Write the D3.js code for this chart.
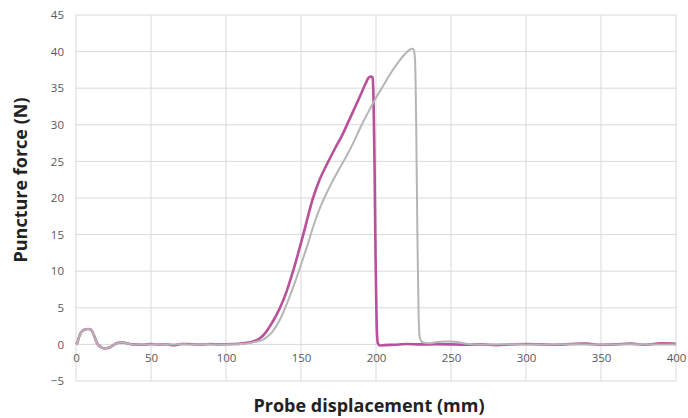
<!DOCTYPE html>
<html>
<head>
<meta charset="utf-8">
<script src="https://cdn.jsdelivr.net/npm/d3@7"></script>
<style>
  html, body { margin: 0; padding: 0; background: #fff; }
  svg { display: block; font-family: "Open Sans", sans-serif; }
</style>
</head>
<body>
<svg id="chart" width="688" height="418"></svg>
<script>
// Tick values
const xTicks = [0, 50, 100, 150, 200, 250, 300, 350, 400];
const yTicks = [-5, 0, 5, 10, 15, 20, 25, 30, 35, 40, 45];

// Series 1 (pink)
const pinkX = [0, 1, 2, 3, 4, 6, 8, 10, 11, 12, 13, 14, 15, 17, 19, 21, 23, 25, 27, 29, 32, 35, 38,
  45, 50, 55, 60, 65, 70, 75, 80, 85, 90, 95, 100, 105,
  110, 115, 120, 123, 126, 129, 132, 136, 140, 145, 151.5, 158, 162, 168, 173, 177.5, 182, 186, 190, 193, 195, 196.5, 197.7,
  198.3, 199, 199.7, 200.4, 201.2, 202.5, 206, 212, 220, 230, 240, 250, 260, 270, 280, 290, 300, 310, 320, 330, 340, 350, 360, 370, 380, 390, 398, 400];
const pinkY = [0, 0.3, 1.0, 1.5, 1.8, 2.05, 2.1, 2.0, 1.7, 1.2, 0.7, 0.2, -0.1, -0.4, -0.55, -0.5, -0.35, -0.1, 0.15, 0.25, 0.25, 0.1, 0,
  -0.05, 0.05, 0, 0.02, -0.12, 0.05, 0.05, -0.02, 0, 0.05, 0, 0.02, 0.05,
  0.1, 0.25, 0.55, 0.9, 1.5, 2.4, 3.4, 5.0, 7.0, 10.2, 15, 20, 22.3, 24.9, 26.9, 28.6, 30.6, 32.4, 34.2, 35.6, 36.4, 36.6, 36.5,
  34, 25, 12, 3, 0.2, -0.15, -0.1, -0.05, 0.05, 0, 0.02, 0, -0.05, 0, -0.1, 0, 0.05, 0, -0.05, 0.05, 0.1, -0.05, 0, 0.1, -0.05, 0.15, 0.1, 0.05];

// Series 2 (grey)
const grayX = [0, 1, 2, 3, 4, 6, 8, 10, 11, 12, 13, 14, 15, 17, 19, 21, 23, 25, 27, 29, 32, 35, 38,
  45, 50, 55, 60, 65, 70, 75, 80, 85, 90, 95, 100, 105,
  110, 115, 120, 125, 130, 136, 142, 146, 151, 155, 158, 162, 166, 170, 175, 180, 185, 190, 195, 200, 205, 210, 215, 219, 222, 224, 225,
  226, 226.8, 227.6, 228.4, 229.3, 231, 235, 240, 245, 250, 255, 260, 265, 270, 280, 290, 300, 310, 320, 330, 340, 350, 360, 370, 380, 390, 400];
const grayY = [0, 0.3, 1.0, 1.5, 1.8, 2.05, 2.1, 2.0, 1.7, 1.2, 0.7, 0.2, -0.1, -0.4, -0.55, -0.5, -0.35, -0.1, 0.15, 0.25, 0.25, 0.1, 0,
  0, 0, 0.02, 0, 0, 0.02, 0, 0, 0.02, 0, 0, 0, 0.02,
  0.05, 0.15, 0.35, 0.7, 1.5, 3.4, 6.3, 8.5, 11.5, 14, 16, 18.3, 20.2, 21.9, 23.8, 25.6, 27.6, 29.8, 31.8, 33.7, 35.4, 37.1, 38.6, 39.6, 40.2, 40.4, 40.3,
  39, 30, 15, 4, 0.8, 0.3, 0.15, 0.3, 0.4, 0.4, 0.3, 0.1, 0, 0, 0, 0.02, 0, 0, 0, 0.02, 0, 0, 0, 0.02, 0, 0, 0];

const svg = d3.select("#chart");
const margin = { left: 76, right: 12, top: 15, bottom: 37 };
const W = 688, H = 418;

const x = d3.scaleLinear().domain([0, 400]).range([margin.left, W - margin.right]);
const y = d3.scaleLinear().domain([-5, 45]).range([H - margin.bottom, margin.top]);

// Grid lines
const grid = svg.append("g");
grid.selectAll("line.v").data(xTicks).join("line")
  .attr("x1", d => x(d)).attr("x2", d => x(d))
  .attr("y1", y(45)).attr("y2", y(-5))
  .attr("stroke", "#d9d9d9").attr("stroke-width", 1);
grid.selectAll("line.h").data(yTicks).join("line")
  .attr("x1", x(0)).attr("x2", x(400))
  .attr("y1", d => y(d)).attr("y2", d => y(d))
  .attr("stroke", "#d9d9d9").attr("stroke-width", 1);

// Y axis labels
const yAxis = d3.axisLeft(y).tickValues(yTicks).tickSize(0).tickPadding(12);
const gy = svg.append("g").attr("transform", `translate(${x(0)},0)`).call(yAxis);
gy.select(".domain").remove();
gy.selectAll("text").attr("fill", "#595959").style("font-size", "11.5px").style("font-family", "Open Sans");

// X axis labels on the zero line
const xAxis = d3.axisBottom(x).tickValues(xTicks).tickSize(0).tickPadding(9);
const gx = svg.append("g").attr("transform", `translate(0,${y(0)})`).call(xAxis);
gx.select(".domain").remove();
gx.selectAll("text").attr("fill", "#595959").style("font-size", "11.5px").style("font-family", "Open Sans");

// Lines
const line = d3.line().x(d => x(d[0])).y(d => y(d[1])).curve(d3.curveMonotoneX);
const pinkData = pinkX.map((v, i) => [v, pinkY[i]]);
const grayData = grayX.map((v, i) => [v, grayY[i]]);

svg.append("path").datum(pinkData).attr("d", line)
  .attr("fill", "none").attr("stroke", "#b8509a").attr("stroke-width", 2.6)
  .attr("stroke-linejoin", "round");
svg.append("path").datum(grayData).attr("d", line)
  .attr("fill", "none").attr("stroke", "#b5b5b5").attr("stroke-width", 2)
  .attr("stroke-linejoin", "round");

// Axis titles
svg.append("text")
  .attr("x", 369).attr("y", 412)
  .attr("text-anchor", "middle")
  .attr("fill", "#222")
  .style("font-size", "18px").style("font-weight", "700")
  .text("Probe displacement (mm)");

svg.append("text")
  .attr("transform", "translate(27,180) rotate(-90)")
  .attr("text-anchor", "middle")
  .attr("fill", "#222")
  .style("font-size", "18px").style("font-weight", "700")
  .text("Puncture force (N)");
</script>
</body>
</html>
